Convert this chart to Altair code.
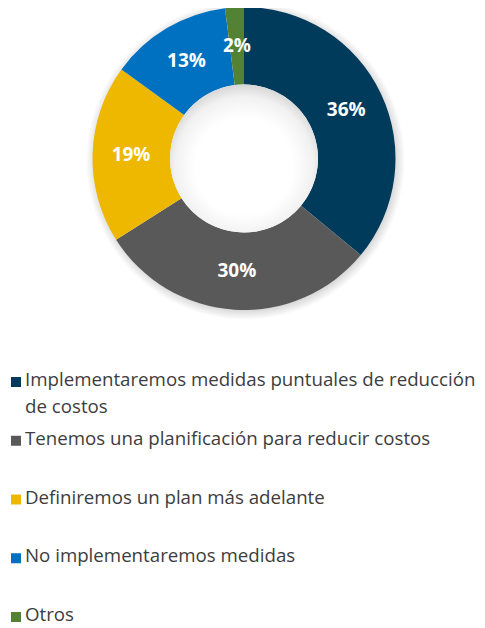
import altair as alt
import pandas as pd

categories = [
    "Implementaremos medidas puntuales de reducción de costos",
    "Tenemos una planificación para reducir costos",
    "Definiremos un plan más adelante",
    "No implementaremos medidas",
    "Otros",
]
legend_texts = [
    "Implementaremos medidas puntuales de reducción\nde costos",
    "Tenemos una planificación para reducir costos",
    "Definiremos un plan más adelante",
    "No implementaremos medidas",
    "Otros",
]
values = [36, 30, 19, 13, 2]
colors = ["#003B5C", "#595959", "#EEB700", "#0070C0", "#548235"]

df = pd.DataFrame({
    "category": categories,
    "legend_text": legend_texts,
    "value": values,
    "order": list(range(len(categories))),
    "label": [f"{v}%" for v in values],
})

CX, CY = 236, 150.5
R_OUT, R_IN = 151.5, 74

color_scale = alt.Scale(domain=categories, range=colors)

base = alt.Chart(df)

shadow = alt.Chart(pd.DataFrame({"k": [0]})).mark_arc(
    theta=0, theta2=6.2832, innerRadius=R_OUT - 4, outerRadius=R_OUT + 8,
    fill=alt.RadialGradient(
        gradient="radial",
        stops=[
            alt.GradientStop(color="rgba(0,0,0,0.18)", offset=(R_OUT - 4) / (R_OUT + 8)),
            alt.GradientStop(color="rgba(0,0,0,0)", offset=1),
        ],
        x1=0.5, y1=0.5, r1=0, x2=0.5, y2=0.5, r2=0.5,
    ),
).encode(x=alt.value(CX + 1.5), y=alt.value(CY + 2))

donut = base.mark_arc(outerRadius=R_OUT, innerRadius=R_IN).encode(
    theta=alt.Theta("value:Q", stack=True),
    color=alt.Color("category:N", scale=color_scale, legend=None),
    order=alt.Order("order:Q"),
    x=alt.value(CX),
    y=alt.value(CY),
)

hole = alt.Chart(pd.DataFrame({"k": [0]})).mark_arc(
    theta=0, theta2=6.2832, innerRadius=0, outerRadius=R_IN,
    fill=alt.RadialGradient(
        gradient="radial",
        stops=[
            alt.GradientStop(color="#ffffff", offset=0),
            alt.GradientStop(color="#ffffff", offset=0.6),
            alt.GradientStop(color="#f1f1f1", offset=0.85),
            alt.GradientStop(color="#d6d6d6", offset=1),
        ],
        x1=0.5, y1=0.55, r1=0, x2=0.5, y2=0.55, r2=0.55,
    ),
).encode(x=alt.value(CX), y=alt.value(CY))

labels = base.mark_text(
    radius=113, font="Open Sans", fontSize=19, fontWeight="bold", color="white",
    align="center", baseline="middle",
).encode(
    theta=alt.Theta("value:Q", stack=True),
    order=alt.Order("order:Q"),
    text="label:N",
    x=alt.value(CX),
    y=alt.value(CY),
)

legend_y = alt.Y("category:N", sort=categories, axis=None,
                 scale=alt.Scale(type="point", range=[374, 609], padding=0))

legend_sq = base.mark_square(size=100, opacity=1).encode(
    y=legend_y,
    x=alt.value(8),
    color=alt.Color("category:N", scale=color_scale, legend=None),
)

legend_txt = base.mark_text(
    align="left", baseline="top", dy=-11, font="Open Sans", fontSize=18.7,
    color="#3d3d3d", lineBreak="\n", lineHeight=27,
).encode(
    y=legend_y,
    x=alt.value(17),
    text="legend_text:N",
)

chart = alt.layer(shadow, donut, hole, labels, legend_sq, legend_txt).properties(
    width=469, height=618, padding=0,
    autosize=alt.AutoSizeParams(type="none"),
).configure_view(stroke=None)

chart.save("out.html", embed_options={"renderer": "svg", "actions": False})
